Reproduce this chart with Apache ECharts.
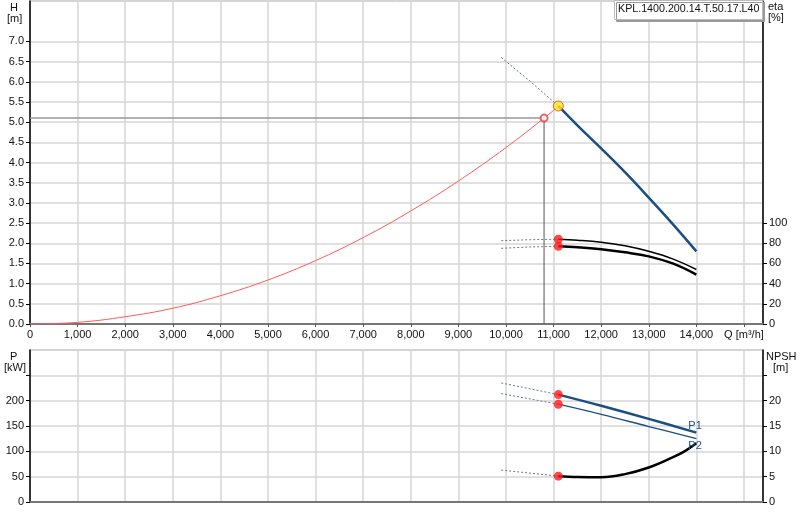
<!DOCTYPE html>
<html>
<head>
<meta charset="utf-8">
<script src="https://cdn.jsdelivr.net/npm/echarts@6/dist/echarts.min.js"></script>
<style>
  html, body { margin: 0; padding: 0; background: #fff; }
  #chart { width: 800px; height: 520px; }
</style>
</head>
<body>
<div id="chart"></div>
<script>
(function(){
  // pump name
  const pumpName = "KPL.1400.200.14.T.50.17.L40";

  // system curve H(Q)
  const qSystem = [0, 1000, 2000, 3000, 4000, 5000, 6000, 7000, 8000, 9000, 10000, 10800, 11100];
  const hSystem = [0, 0.04, 0.18, 0.39, 0.70, 1.09, 1.57, 2.14, 2.80, 3.54, 4.37, 5.10, 5.39];

  // requested duty point
  const dutyQ = 10800;
  const dutyH = 5.1;

  // pump curve H(Q) and its dashed extension
  const qPump = [11100, 11500, 12000, 12500, 13000, 13500, 14000];
  const hPump = [5.40, 4.92, 4.35, 3.76, 3.13, 2.48, 1.80];
  const qPumpExt = [9900, 10500, 11100];
  const hPumpExt = [6.60, 6.02, 5.40];

  // efficiency curves [%]
  const qEta = [11100, 11500, 12000, 12500, 13000, 13500, 14000];
  const eta1 = [84, 83, 81, 77.5, 72, 64.5, 54];
  const eta2 = [77, 76, 74, 71, 67, 60, 49];
  const qEtaExt = [9900, 10500, 11100];
  const eta1Ext = [82.5, 83.5, 84];
  const eta2Ext = [75, 76.3, 77];

  // power curves [kW]
  const qPow = [11100, 12000, 13000, 14000];
  const p1 = [212, 190, 164, 137];
  const p2 = [193, 173, 149, 125];
  const qPowExt = [9900, 11100];
  const p1Ext = [235, 212];
  const p2Ext = [214, 193];

  // NPSH [m]
  const qNpsh = [11100, 11500, 12000, 12500, 13000, 13500, 13750, 14000];
  const npsh = [5.1, 4.95, 4.9, 5.5, 6.8, 8.8, 10.0, 11.6];
  const qNpshExt = [9900, 11100];
  const npshExt = [6.3, 5.1];

  // tick labels
  const qTicks = [0, 1000, 2000, 3000, 4000, 5000, 6000, 7000, 8000, 9000, 10000, 11000, 12000, 13000, 14000, 15000];
  const hTicks = [0, 0.5, 1, 1.5, 2, 2.5, 3, 3.5, 4, 4.5, 5, 5.5, 6, 6.5, 7];
  const etaTicks = [0, 20, 40, 60, 80, 100];
  const pTicks = [0, 50, 100, 150, 200];
  const npshTicks = [0, 5, 10, 15, 20];

  const pts = (qs, vs) => qs.map((q, i) => [q, vs[i]]);
  const font = "Liberation Sans, Arial, sans-serif";
  const lab = { color: "#111", fontSize: 11, fontFamily: font };
  const split = { show: true, lineStyle: { color: "#d6d6d6", width: 1.5 } };

  const chart = echarts.init(document.getElementById("chart"));

  const line = (name, data, xi, yi, color, width, extra) => Object.assign({
    name: name, type: "line", xAxisIndex: xi, yAxisIndex: yi, data: data,
    showSymbol: false, symbol: "none", smooth: 0.4, silent: true,
    lineStyle: { color: color, width: width }
  }, extra || {});
  const dashed = (name, data, xi, yi, color) => line(name, data, xi, yi, color, 1, {
    smooth: false, lineStyle: { color: color, width: 1, type: [2, 2] }
  });
  const dots = (name, data, xi, yi) => ({
    name: name, type: "scatter", xAxisIndex: xi, yAxisIndex: yi, data: data,
    symbolSize: 9, itemStyle: { color: "#ff1a1a" }, z: 10, silent: true
  });

  const option = {
    animation: false,
    grid: [
      { left: 30, right: 37, top: 1, height: 323, show: true, borderColor: "#aaa", borderWidth: 1 },
      { left: 30, right: 37, top: 350, height: 152, show: true, borderColor: "#aaa", borderWidth: 1 }
    ],
    xAxis: [
      {
        type: "value", gridIndex: 0, min: 0, max: 15400, interval: 1000,
        axisLine: { show: true, onZero: false, lineStyle: { color: "#777", width: 2 } },
        axisTick: { show: true, length: 3, customValues: qTicks, lineStyle: { color: "#555" } },
        axisLabel: Object.assign({
          margin: 5, customValues: qTicks,
          formatter: v => v === 15000 ? "Q [m³/h]" : v.toLocaleString("en-US")
        }, lab),
        splitLine: split
      },
      {
        type: "value", gridIndex: 1, min: 0, max: 15400, interval: 1000,
        axisLine: { show: true, onZero: false, lineStyle: { color: "#777", width: 2 } },
        axisTick: { show: false }, axisLabel: { show: false },
        splitLine: split
      }
    ],
    yAxis: [
      {
        type: "value", gridIndex: 0, min: 0, max: 8, interval: 0.5,
        axisLine: { show: true, lineStyle: { color: "#000", width: 1.5 } },
        axisTick: { show: true, length: 4, customValues: hTicks, lineStyle: { color: "#000" } },
        axisLabel: Object.assign({ margin: 6, customValues: hTicks, formatter: v => v.toFixed(1) }, lab),
        splitLine: split
      },
      {
        type: "value", gridIndex: 0, position: "right", min: 0, max: 320, interval: 20,
        axisLine: { show: true, lineStyle: { color: "#000", width: 1.5 } },
        axisTick: { show: true, length: 4, customValues: etaTicks, lineStyle: { color: "#000" } },
        axisLabel: Object.assign({ margin: 6, customValues: etaTicks }, lab),
        splitLine: { show: false }
      },
      {
        type: "value", gridIndex: 1, min: 0, max: 300, interval: 50,
        axisLine: { show: true, lineStyle: { color: "#000", width: 1.5 } },
        axisTick: { show: true, length: 4, customValues: pTicks.concat([250]), lineStyle: { color: "#000" } },
        axisLabel: Object.assign({ margin: 6, customValues: pTicks }, lab),
        splitLine: split
      },
      {
        type: "value", gridIndex: 1, position: "right", min: 0, max: 30, interval: 5,
        axisLine: { show: true, lineStyle: { color: "#000", width: 1.5 } },
        axisTick: { show: true, length: 4, customValues: npshTicks.concat([25]), lineStyle: { color: "#000" } },
        axisLabel: Object.assign({ margin: 6, customValues: npshTicks }, lab),
        splitLine: { show: false }
      }
    ],
    series: [
      // duty point reference lines
      line("dutyH", [[0, dutyH], [dutyQ, dutyH]], 0, 0, "#999", 1.5, { smooth: false }),
      line("dutyQ", [[dutyQ, 0], [dutyQ, dutyH]], 0, 0, "#555", 1, { smooth: false }),
      // system curve
      line("system", pts(qSystem, hSystem), 0, 0, "#ff5a5a", 1),
      {
        name: "duty", type: "scatter", xAxisIndex: 0, yAxisIndex: 0, data: [[dutyQ, dutyH]],
        symbol: "emptyCircle", symbolSize: 7, itemStyle: { color: "#e84040", borderWidth: 1 }, z: 9
      },
      // pump curve
      dashed("pumpExt", pts(qPumpExt, hPumpExt), 0, 0, "#5c6c90"),
      line("pump", pts(qPump, hPump), 0, 0, "#1b4f83", 2.5),
      {
        name: "op", type: "scatter", xAxisIndex: 0, yAxisIndex: 0, data: [[qPump[0], hPump[0]]],
        symbolSize: 10, itemStyle: { color: "#ffe81a", borderColor: "#e04020", borderWidth: 1 }, z: 11
      },
      // efficiency
      dashed("eta1Ext", pts(qEtaExt, eta1Ext), 0, 1, "#777"),
      dashed("eta2Ext", pts(qEtaExt, eta2Ext), 0, 1, "#777"),
      line("eta1", pts(qEta, eta1), 0, 1, "#000", 1.5),
      line("eta2", pts(qEta, eta2), 0, 1, "#000", 2.5),
      dots("etaDots", [[qEta[0], eta1[0]], [qEta[0], eta2[0]]], 0, 1),
      // power
      dashed("p1Ext", pts(qPowExt, p1Ext), 1, 2, "#6a7a98"),
      dashed("p2Ext", pts(qPowExt, p2Ext), 1, 2, "#6a7a98"),
      line("P1", pts(qPow, p1), 1, 2, "#1b4f83", 2.5, {
        endLabel: { show: true, formatter: "P1", color: "#1b4f83", fontSize: 11, fontFamily: font, offset: [-16, -7] }
      }),
      line("P2", pts(qPow, p2), 1, 2, "#1b4f83", 1.3, {
        endLabel: { show: true, formatter: "P2", color: "#1b4f83", fontSize: 11, fontFamily: font, offset: [-16, 7] }
      }),
      dots("pDots", [[qPow[0], p1[0]], [qPow[0], p2[0]]], 1, 2),
      // NPSH
      dashed("npshExt", pts(qNpshExt, npshExt), 1, 3, "#777"),
      line("NPSH", pts(qNpsh, npsh), 1, 3, "#000", 2.5),
      dots("npshDot", [[qNpsh[0], npsh[0]]], 1, 3)
    ],
    graphic: [
      { type: "text", left: 10, top: 2, style: { text: "H", font: "11px " + font, fill: "#111" } },
      { type: "text", left: 7, top: 13, style: { text: "[m]", font: "11px " + font, fill: "#111" } },
      { type: "text", left: 768, top: 1, style: { text: "eta", font: "11px " + font, fill: "#111" } },
      { type: "text", left: 768, top: 12, style: { text: "[%]", font: "11px " + font, fill: "#111" } },
      { type: "text", left: 10, top: 351, style: { text: "P", font: "11px " + font, fill: "#111" } },
      { type: "text", left: 4, top: 362, style: { text: "[kW]", font: "11px " + font, fill: "#111" } },
      { type: "text", left: 766, top: 351, style: { text: "NPSH", font: "11px " + font, fill: "#111" } },
      { type: "text", left: 773, top: 362, style: { text: "[m]", font: "11px " + font, fill: "#111" } },
      {
        type: "rect", left: 614, top: 0, z: 20,
        shape: { width: 148, height: 19 },
        style: { fill: "#fff", stroke: "#bbb", lineWidth: 1, shadowColor: "#999", shadowOffsetX: 2, shadowOffsetY: 2 }
      },
      { type: "text", left: 618, top: 4, z: 21, style: { text: pumpName, font: "10.7px " + font, fill: "#111" } }
    ]
  };

  chart.setOption(option);
  window.addEventListener("resize", () => chart.resize());
})();
</script>
</body>
</html>
